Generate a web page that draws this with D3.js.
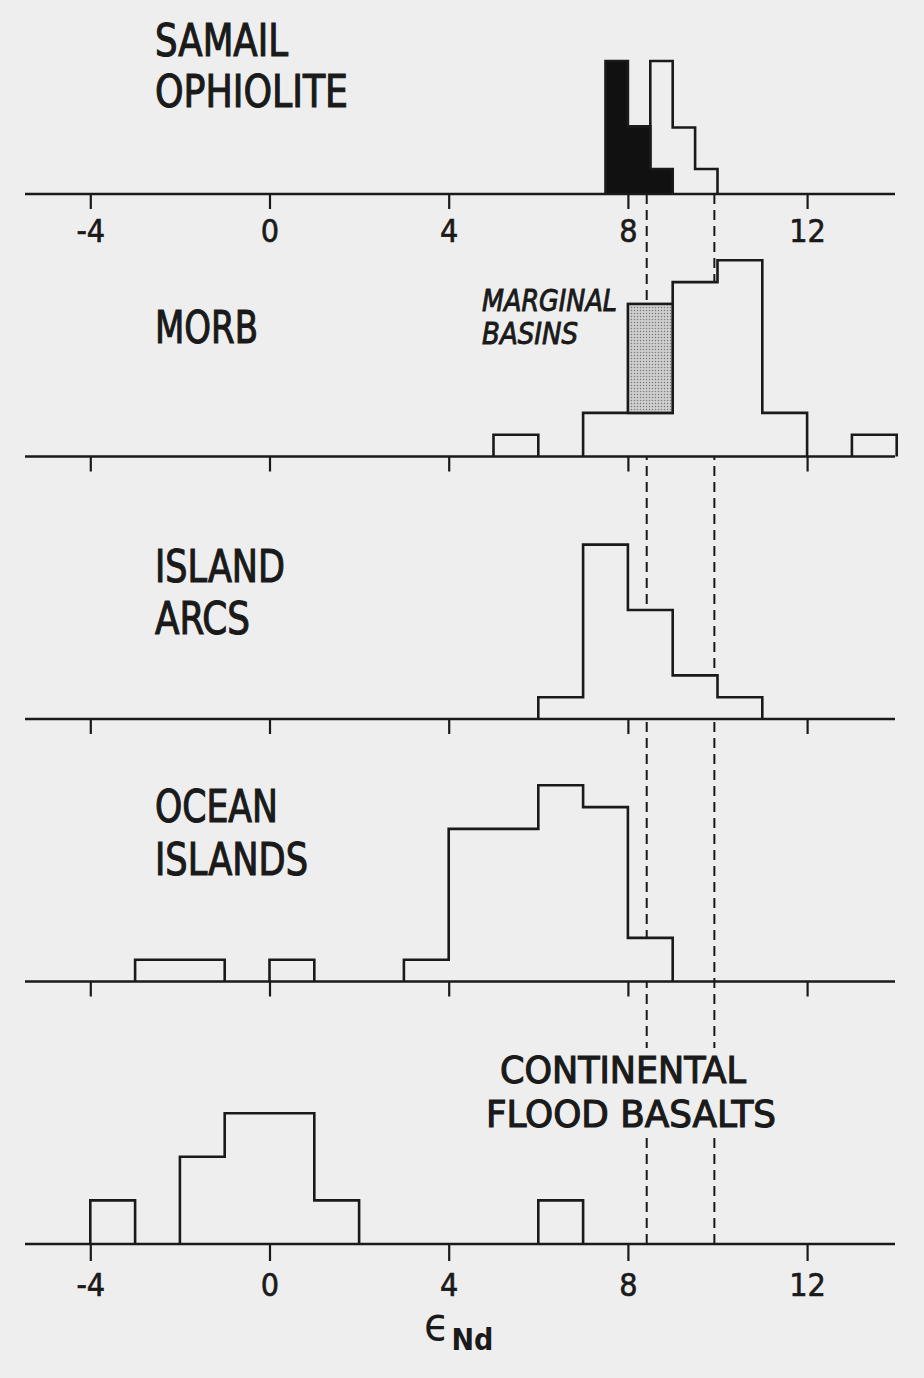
<!DOCTYPE html>
<html><head><meta charset="utf-8">
<script src="https://cdn.jsdelivr.net/npm/d3@7/dist/d3.min.js"></script>
<style>
html,body{margin:0;padding:0;background:#eeeeee;}
svg{display:block;}
text{font-family:"DejaVu Sans Condensed","Liberation Sans Narrow","DejaVu Sans",sans-serif;fill:#1a1a1a;}
</style></head>
<body>
<script>
// ---- data ----
const xTicks = [-4, 0, 4, 8, 12];
const dashedRefs = [8.42, 9.93];

// Samail ophiolite (0.5 epsilon bins)
const samailBlackBins = [7.5, 8.0, 8.5];
const samailBlackCounts = [6.1, 3.1, 1.15];
const samailOpenBins = [8.5, 9.0, 9.5];
const samailOpenCounts = [4.95, 3.05, 1.15];

// MORB (1 epsilon bins)
const morbBins = [5, 7, 8, 9, 10, 11, 13];
const morbCounts = [1, 2, 2, 8, 9, 2, 1];
const marginalBins = [8];
const marginalCounts = [5];

// Island arcs
const arcBins = [6, 7, 8, 9, 10];
const arcCounts = [1, 8, 5, 2, 1];

// Ocean islands
const oceanBins = [-3, -2, 0, 3, 4, 5, 6, 7, 8];
const oceanCounts = [1, 1, 1, 1, 7, 7, 9, 8, 2];

// Continental flood basalts
const floodBins = [-4, -2, -1, 0, 1, 6];
const floodCounts = [2, 4, 6, 6, 2, 2];

// ---- layout ----
const W = 924, H = 1378;
const BG = "#eeeeee", INK = "#1a1a1a";
const firstBase = 194, step = 262.5, unit = 21.8;
const svg = d3.select("body").append("svg").attr("width", W).attr("height", H);
svg.append("rect").attr("width", W).attr("height", H).attr("fill", BG);

const defs = svg.append("defs");
const pat = defs.append("pattern").attr("id","stip").attr("width",3).attr("height",3)
  .attr("patternUnits","userSpaceOnUse");
pat.append("rect").attr("width",3).attr("height",3).attr("fill","#cfcfcf");
pat.append("circle").attr("cx",1.5).attr("cy",1.5).attr("r",0.75).attr("fill","#7a7a7a");

const x = d3.scaleLinear().domain([-4, 12]).range([90.3, 807.1]);
const baseOf = i => firstBase + i * step;
const yOf = i => d3.scaleLinear().domain([0, 10]).range([baseOf(i), baseOf(i) - 10 * unit]);

// dashed reference lines (behind everything)
svg.append("g").selectAll("line").data(dashedRefs).join("line")
  .attr("x1", d => x(d)).attr("x2", d => x(d))
  .attr("y1", baseOf(0)).attr("y2", baseOf(4))
  .attr("stroke", INK).attr("stroke-width", 2).attr("stroke-dasharray", "10,6");

function runs(bins, counts, w) {
  const out = []; let cur = null;
  bins.forEach((b, i) => {
    if (cur && Math.abs(cur.end - b) < 1e-9) { cur.pts.push([b, counts[i]], [b + w, counts[i]]); cur.end = b + w; }
    else { cur = { pts: [[b, 0], [b, counts[i]], [b + w, counts[i]]], end: b + w }; out.push(cur); }
  });
  out.forEach(r => r.pts.push([r.end, 0]));
  return out.map(r => r.pts);
}

function drawHist(i, bins, counts, w, fill) {
  const y = yOf(i);
  const line = d3.line().x(d => x(d[0])).y(d => y(d[1]));
  svg.append("g").selectAll("path").data(runs(bins, counts, w)).join("path")
    .attr("d", d => line(d)).attr("fill", fill).attr("stroke", INK)
    .attr("stroke-width", 2.6).attr("stroke-linejoin", "miter");
}

// Panel 0: Samail (open series stacked on black)
const samailOpenTotals = samailOpenBins.map((b, k) => {
  const j = samailBlackBins.indexOf(b);
  return samailOpenCounts[k] + (j >= 0 ? samailBlackCounts[j] : 0);
});
drawHist(0, samailOpenBins, samailOpenTotals, 0.5, BG);
drawHist(0, samailBlackBins, samailBlackCounts, 0.5, "#111");

// Panel 1: MORB + marginal basins stacked
drawHist(1, morbBins, morbCounts, 1, BG);
{
  const y = yOf(1);
  svg.append("g").selectAll("rect").data(marginalBins).join("rect")
    .attr("x", d => x(d)).attr("width", d => x(d + 1) - x(d))
    .attr("y", (d, k) => y(morbCounts[morbBins.indexOf(d)] + marginalCounts[k]))
    .attr("height", (d, k) => y(0) - y(marginalCounts[k]))
    .attr("fill", "url(#stip)").attr("stroke", INK).attr("stroke-width", 2.6);
}
drawHist(2, arcBins, arcCounts, 1, BG);
drawHist(3, oceanBins, oceanCounts, 1, BG);
drawHist(4, floodBins, floodCounts, 1, BG);

// axes
for (let i = 0; i < 5; i++) {
  const b = baseOf(i);
  const showLab = (i === 0 || i === 4);
  const g = svg.append("g").attr("transform", `translate(0,${b})`)
    .call(d3.axisBottom(x).tickValues(xTicks).tickSize(i === 4 ? 17 : 15)
      .tickFormat(d => showLab ? String(d).replace("\u2212", "-") : ""));
  g.select(".domain").remove();
  g.selectAll(".tick line").attr("stroke", INK).attr("stroke-width", 2.2);
  g.selectAll(".tick text").attr("y", i === 4 ? 52 : 48).attr("dy", 0)
    .attr("font-size", 32).attr("fill", INK)
    .attr("stroke", INK).attr("stroke-width", 0.6)
    .style("font-family", '"DejaVu Sans Condensed","Liberation Sans Narrow","DejaVu Sans",sans-serif');
  svg.append("line").attr("x1", 25).attr("x2", 895).attr("y1", b).attr("y2", b)
    .attr("stroke", INK).attr("stroke-width", 2.6);
}

// mask dashed lines behind the flood-basalt label
svg.append("rect").attr("x", 480).attr("y", 1048).attr("width", 300).attr("height", 86).attr("fill", BG);

// labels
const labels = [
  { t: "SAMAIL", x: 155, y: 56, w: 133, fs: 44 },
  { t: "OPHIOLITE", x: 155, y: 107, w: 193, fs: 44 },
  { t: "MORB", x: 155, y: 343, w: 103, fs: 44 },
  { t: "ISLAND", x: 155, y: 582, w: 130, fs: 44 },
  { t: "ARCS", x: 155, y: 634, w: 95, fs: 44 },
  { t: "OCEAN", x: 155, y: 822, w: 123, fs: 44 },
  { t: "ISLANDS", x: 155, y: 875, w: 153, fs: 44 },
  { t: "CONTINENTAL", x: 500, y: 1083, w: 246, fs: 37 },
  { t: "FLOOD BASALTS", x: 486, y: 1127, w: 290, fs: 37 },
  { t: "MARGINAL", x: 482, y: 311, w: 135, fs: 31, it: true },
  { t: "BASINS", x: 482, y: 344, w: 96, fs: 31, it: true }
];
svg.append("g").selectAll("text").data(labels).join("text")
  .attr("x", d => d.x).attr("y", d => d.y).attr("font-size", d => d.fs)
  .attr("font-style", d => d.it ? "italic" : "normal")
  .attr("stroke", INK).attr("stroke-width", d => d.it ? 0.9 : 1.1)
  .attr("textLength", d => d.w).attr("lengthAdjust", "spacingAndGlyphs")
  .text(d => d.t);

// x axis title
const title = svg.append("text").attr("x", 424).attr("y", 1340).attr("font-size", 46);
title.append("tspan").text("\u03F5");
title.append("tspan").attr("font-size", 30).attr("dy", 10).attr("dx", 2).attr("font-weight", "bold").text("Nd");
</script>
</body></html>
